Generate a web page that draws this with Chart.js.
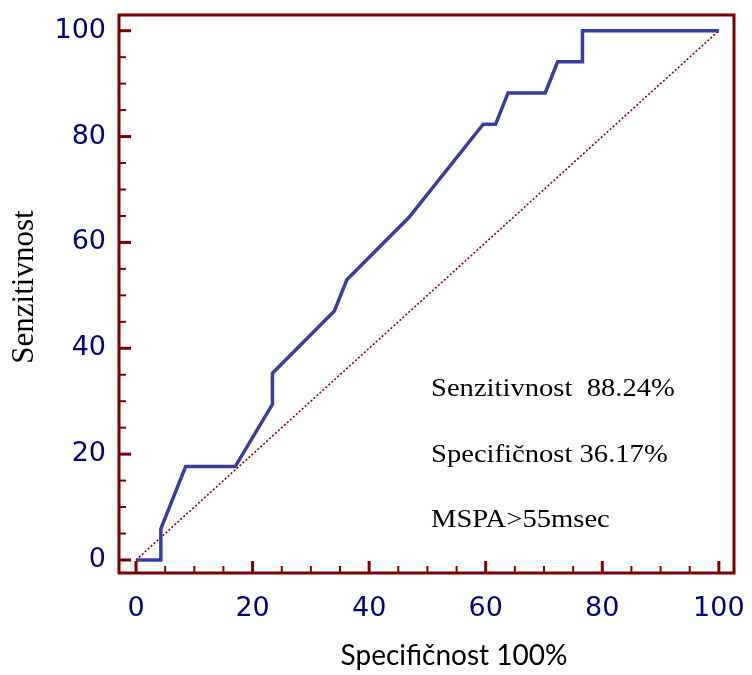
<!DOCTYPE html>
<html>
<head>
<meta charset="utf-8">
<script src="https://cdn.jsdelivr.net/npm/chart.js@4.4.1/dist/chart.umd.min.js"></script>
<style>
html,body{margin:0;padding:0;background:#fff;}
#wrap{width:752px;height:675px;position:relative;}
</style>
</head>
<body>
<div id="wrap"><canvas id="c" width="752" height="675"></canvas></div>
<script>
// ROC curve points (100 - specificity, sensitivity)
const fprValues = [0, 4.26, 4.26, 8.51, 17.02, 23.40, 23.40, 34.04, 36.17, 46.81, 59.57, 61.70, 63.83, 70.21, 72.34, 76.60, 76.60, 100];
const tprValues = [0, 0, 5.88, 17.65, 17.65, 29.41, 35.29, 47.06, 52.94, 64.71, 82.35, 82.35, 88.24, 88.24, 94.12, 94.12, 100, 100];
const refX = [0, 100];
const refY = [0, 100];
const xTickLabels = [0, 20, 40, 60, 80, 100];
const yTickLabels = [0, 20, 40, 60, 80, 100];
const annotationLines = ['Senzitivnost  88.24%', 'Specifičnost 36.17%', 'MSPA>55msec'];
const xTitle = 'Specifičnost 100%';
const yTitle = 'Senzitivnost';

const frameColor = '#7a0000';
const tickColor = '#000080';

const framePlugin = {
  id: 'frame',
  afterDraw(chart) {
    const {ctx, chartArea: a, scales: {x, y}} = chart;
    ctx.save();
    ctx.strokeStyle = frameColor;
    ctx.lineCap = 'butt';
    for (let v = 0; v <= 100; v += 5) {
      const major = v % 20 === 0;
      ctx.lineWidth = major ? 3 : 2;
      const len = major ? 12 : 7;
      const px = x.getPixelForValue(v);
      ctx.beginPath(); ctx.moveTo(px, a.bottom); ctx.lineTo(px, a.bottom - len); ctx.stroke();
      const py = y.getPixelForValue(v);
      ctx.beginPath(); ctx.moveTo(a.left, py); ctx.lineTo(a.left + len, py); ctx.stroke();
    }
    ctx.lineWidth = 3;
    ctx.strokeRect(a.left, a.top, a.right - a.left, a.bottom - a.top);
    // annotation
    ctx.fillStyle = '#000';
    ctx.font = '26px "Liberation Serif", "Times New Roman", serif';
    ctx.textBaseline = 'alphabetic';
    const baseY = [396, 462, 527];
    annotationLines.forEach((t, i) => {
      ctx.save();
      ctx.translate(431, baseY[i]);
      ctx.scale(1.1, 1);
      ctx.fillText(t, 0, 0);
      ctx.restore();
    });
    // y title
    ctx.save();
    ctx.font = '31px "Liberation Serif", "Times New Roman", serif';
    ctx.textAlign = 'center';
    ctx.textBaseline = 'middle';
    ctx.translate(25, 287);
    ctx.rotate(-Math.PI / 2);
    ctx.fillText(yTitle, 0, 0);
    ctx.restore();
    // x title
    ctx.font = '28px Lato, "Open Sans", sans-serif';
    ctx.textAlign = 'center';
    ctx.textBaseline = 'alphabetic';
    ctx.fillText(xTitle, 454, 665);
    ctx.restore();
  }
};

new Chart(document.getElementById('c'), {
  type: 'scatter',
  data: {
    datasets: [
      {
        data: fprValues.map((v, i) => ({x: v, y: tprValues[i]})),
        showLine: true,
        borderColor: '#3a3da0',
        borderWidth: 3.5,
        pointRadius: 0,
        tension: 0,
        fill: false,
        order: 1
      },
      {
        data: refX.map((v, i) => ({x: v, y: refY[i]})),
        showLine: true,
        borderColor: '#8b0000',
        borderWidth: 1.6,
        borderDash: [2, 2],
        pointRadius: 0,
        fill: false,
        order: 2
      }
    ]
  },
  options: {
    responsive: false,
    animation: false,
    layout: {padding: {left: 0, right: 18, top: 15, bottom: 0}},
    plugins: {legend: {display: false}, tooltip: {enabled: false}},
    scales: {
      x: {
        type: 'linear',
        min: -2.92,
        max: 102.6,
        afterBuildTicks: s => { s.ticks = xTickLabels.map(v => ({value: v})); },
        afterFit: s => { s.height = 102; s.paddingLeft = 0; s.paddingRight = 0; },
        grid: {display: false, drawTicks: false},
        border: {display: false},
        ticks: {color: tickColor, font: {family: '"DejaVu Sans", sans-serif', size: 27, lineHeight: 1}, padding: 22, maxRotation: 0}
      },
      y: {
        type: 'linear',
        min: -2.46,
        max: 102.97,
        afterBuildTicks: s => { s.ticks = yTickLabels.map(v => ({value: v})); },
        afterFit: s => { s.width = 119; s.paddingTop = 0; s.paddingBottom = 0; },
        grid: {display: false, drawTicks: false},
        border: {display: false},
        ticks: {color: tickColor, font: {family: '"DejaVu Sans", sans-serif', size: 27, lineHeight: 1}, padding: 13}
      }
    }
  },
  plugins: [framePlugin]
});
</script>
</body>
</html>
